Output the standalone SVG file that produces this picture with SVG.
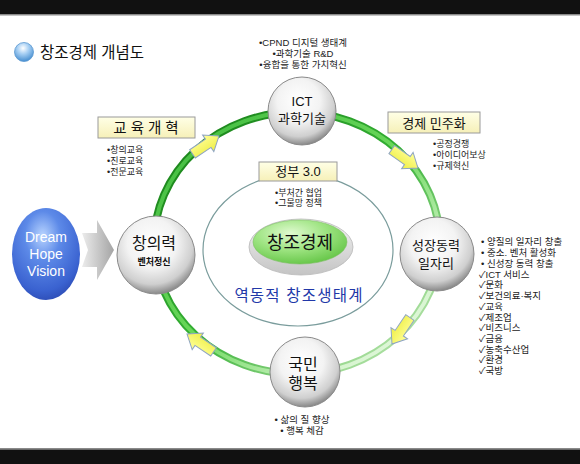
<svg xmlns="http://www.w3.org/2000/svg" width="580" height="464" viewBox="0 0 580 464">
<defs>
<style>
text{font-family:"Liberation Sans","Noto Sans CJK KR",sans-serif;fill:#111}
.b{font-size:9px;fill:#222}
.b2{font-size:9.5px;fill:#222}
.nl{font-size:13px;text-anchor:middle}
.sphere{fill:url(#gSphere);stroke:#8a8a8a;stroke-width:1}
.ybox{fill:url(#gBox);stroke:#9a9a9a;stroke-width:1}
.yarrow{fill:url(#gYel);stroke:#8ea4c4;stroke-width:1}
</style>
<radialGradient id="gSphere" cx="0.45" cy="0.35" r="0.7">
<stop offset="0" stop-color="#ffffff"/>
<stop offset="0.45" stop-color="#f3f3f3"/>
<stop offset="0.75" stop-color="#cfcfcf"/>
<stop offset="0.92" stop-color="#8c8c8c"/>
<stop offset="1" stop-color="#6a6a6a"/>
</radialGradient>
<radialGradient id="gBlue" cx="0.45" cy="0.3" r="0.75">
<stop offset="0" stop-color="#b8d4ff"/>
<stop offset="0.35" stop-color="#5d8ae8"/>
<stop offset="0.8" stop-color="#3a62d0"/>
<stop offset="1" stop-color="#2a48b0"/>
</radialGradient>
<radialGradient id="gTitle" cx="0.45" cy="0.3" r="0.75">
<stop offset="0" stop-color="#ffffff"/>
<stop offset="0.4" stop-color="#a8d0f4"/>
<stop offset="1" stop-color="#3a86cc"/>
</radialGradient>
<linearGradient id="gRingO" x1="0" y1="0" x2="1" y2="1">
<stop offset="0" stop-color="#157a15"/>
<stop offset="0.5" stop-color="#34b034"/>
<stop offset="0.8" stop-color="#9ad890"/>
<stop offset="1" stop-color="#c8ecc0"/>
</linearGradient>
<linearGradient id="gRingI" x1="0" y1="0" x2="1" y2="1">
<stop offset="0" stop-color="#3cb83c"/>
<stop offset="0.5" stop-color="#6ad85a"/>
<stop offset="0.8" stop-color="#d4f4cc"/>
<stop offset="1" stop-color="#f4fcf2"/>
</linearGradient>
<linearGradient id="gBox" x1="0" y1="0" x2="0" y2="1">
<stop offset="0" stop-color="#ffffe6"/>
<stop offset="1" stop-color="#f6f0b8"/>
</linearGradient>
<linearGradient id="gYel" x1="0" y1="0" x2="0" y2="1">
<stop offset="0" stop-color="#ffff99"/>
<stop offset="1" stop-color="#eeee44"/>
</linearGradient>
<linearGradient id="gChev" x1="0" y1="0" x2="1" y2="0">
<stop offset="0" stop-color="#ececec"/>
<stop offset="1" stop-color="#a4a4a4"/>
</linearGradient>
<radialGradient id="gGreenBtn" cx="0.4" cy="0.3" r="0.75">
<stop offset="0" stop-color="#e0fad0"/>
<stop offset="0.5" stop-color="#9ee482"/>
<stop offset="1" stop-color="#62c444"/>
</radialGradient>
<linearGradient id="gBase" x1="0" y1="0" x2="0" y2="1">
<stop offset="0" stop-color="#f4f4f4"/>
<stop offset="1" stop-color="#c4c4c4"/>
</linearGradient>
<path id="yArr" d="M-32,-5 L-13,-5 L-13,-10 L0,0 L-13,10 L-13,5 L-32,5 Z"/>
</defs>

<rect x="0" y="0" width="580" height="464" fill="#ffffff"/>
<rect x="0" y="0" width="580" height="14" fill="#111111"/>
<rect x="0" y="14" width="580" height="1.5" fill="#8a8a8a"/>
<rect x="0" y="448" width="580" height="1.5" fill="#8a8a8a"/>
<rect x="0" y="449.5" width="580" height="14.5" fill="#111111"/>

<g id="title">
<circle cx="24" cy="52" r="9.5" fill="url(#gTitle)" stroke="#5a98d0" stroke-width="0.8"/>
<text x="40" y="58" style="font-size:15.5px">창조경제 개념도</text>
</g>

<g id="inner-ecosystem">
<ellipse cx="298" cy="250" rx="95" ry="76" fill="none" stroke="#7a9c9c" stroke-width="1.2"/>
<text x="299" y="301" style="font-size:15.5px;fill:#2238a8;letter-spacing:1.2px" text-anchor="middle">역동적 창조생태계</text>
</g>

<g id="connectors">
<ellipse cx="297" cy="243" rx="143" ry="131" fill="none" stroke="url(#gRingO)" stroke-width="8"/>
<ellipse cx="297" cy="243" rx="143" ry="131" fill="none" stroke="url(#gRingI)" stroke-width="4"/>
<use href="#yArr" class="yarrow" transform="translate(219,136) rotate(-34)"/>
<use href="#yArr" class="yarrow" transform="translate(418,168) rotate(35)"/>
<use href="#yArr" class="yarrow" transform="translate(392,344) rotate(124)"/>
<use href="#yArr" class="yarrow" transform="translate(187,334) rotate(214)"/>
<path d="M82,233 L97,233 L97,220 L114,250 L97,280 L97,267 L82,267 L88,250 Z" fill="url(#gChev)"/>
</g>

<g id="node-vision">
<ellipse cx="46" cy="254" rx="34" ry="46" fill="url(#gBlue)"/>
<text x="46" y="242" text-anchor="middle" style="font-size:14px;fill:#ffffff">Dream</text>
<text x="46" y="259" text-anchor="middle" style="font-size:14px;fill:#ffffff">Hope</text>
<text x="46" y="276" text-anchor="middle" style="font-size:14px;fill:#ffffff">Vision</text>
</g>

<g id="node-ict">
<circle cx="302" cy="111" r="34" class="sphere"/>
<text x="302" y="106" class="nl">ICT</text>
<text x="302" y="123" class="nl">과학기술</text>
<text x="303" y="46" class="b2" text-anchor="middle">•CPND 디지털 생태계</text>
<text x="303" y="57" class="b2" text-anchor="middle">•과학기술 R&amp;D</text>
<text x="303" y="68" class="b2" text-anchor="middle">•융합을 통한 가치혁신</text>
</g>

<g id="node-creativity">
<circle cx="156" cy="255" r="39" class="sphere"/>
<text x="154" y="249" text-anchor="middle" style="font-size:16px">창의력</text>
<text x="154" y="265" text-anchor="middle" style="font-size:9px;font-weight:bold">벤처정신</text>
</g>

<g id="node-growth">
<circle cx="437" cy="254" r="37" class="sphere"/>
<text x="436" y="250" class="nl">성장동력</text>
<text x="436" y="268" class="nl">일자리</text>
<text x="481" y="245" class="b2">• 양질의 일자리 창출</text>
<text x="481" y="256" class="b2">• 중소. 벤처 활성화</text>
<text x="481" y="267" class="b2">• 신성장 동력 창출</text>
<text x="479" y="277.5" class="b2">✓ICT 서비스</text>
<text x="479" y="288" class="b2">✓문화</text>
<text x="479" y="299" class="b2">✓보건의료·복지</text>
<text x="479" y="310" class="b2">✓교육</text>
<text x="479" y="320.5" class="b2">✓제조업</text>
<text x="479" y="331" class="b2">✓비즈니스</text>
<text x="479" y="341.5" class="b2">✓금융</text>
<text x="479" y="352.5" class="b2">✓농축수산업</text>
<text x="479" y="363" class="b2">✓환경</text>
<text x="479" y="373.5" class="b2">✓국방</text>
</g>

<g id="node-happiness">
<circle cx="305" cy="372" r="35" class="sphere"/>
<text x="303" y="370" text-anchor="middle" style="font-size:16px">국민</text>
<text x="303" y="389" text-anchor="middle" style="font-size:16px">행복</text>
<text x="302" y="423" class="b2" text-anchor="middle">• 삶의 질 향상</text>
<text x="302" y="434" class="b2" text-anchor="middle">• 행복 체감</text>
</g>

<g id="box-edu">
<rect x="98" y="117" width="97" height="21" class="ybox"/>
<text x="146" y="133" text-anchor="middle" style="font-size:14.5px">교 육 개 혁</text>
<text x="107" y="152.5" class="b">•창의교육</text>
<text x="107" y="163.5" class="b">•진로교육</text>
<text x="107" y="174.5" class="b">•전문교육</text>
</g>

<g id="box-econ">
<rect x="388" y="112" width="92" height="21" class="ybox"/>
<text x="434" y="128" text-anchor="middle" style="font-size:13px">경제 민주화</text>
<text x="433" y="146.5" class="b">•공정경쟁</text>
<text x="433" y="157.5" class="b">•아이디어보상</text>
<text x="433" y="168.5" class="b">•규제혁신</text>
</g>

<g id="box-gov">
<rect x="259" y="162" width="78" height="19" class="ybox"/>
<text x="298" y="176" text-anchor="middle" style="font-size:13px">정부 3.0</text>
<text x="275" y="195.5" class="b">•부처간 협업</text>
<text x="275" y="205.5" class="b">•그물망 정책</text>
</g>

<g id="node-center">
<ellipse cx="301" cy="247" rx="52" ry="28" fill="url(#gBase)" stroke="#b8b8b8" stroke-width="0.8"/>
<ellipse cx="300" cy="242" rx="47" ry="22" fill="url(#gGreenBtn)" stroke="#7ac060" stroke-width="0.6"/>
<text x="300" y="249" text-anchor="middle" style="font-size:18px">창조경제</text>
</g>
</svg>
